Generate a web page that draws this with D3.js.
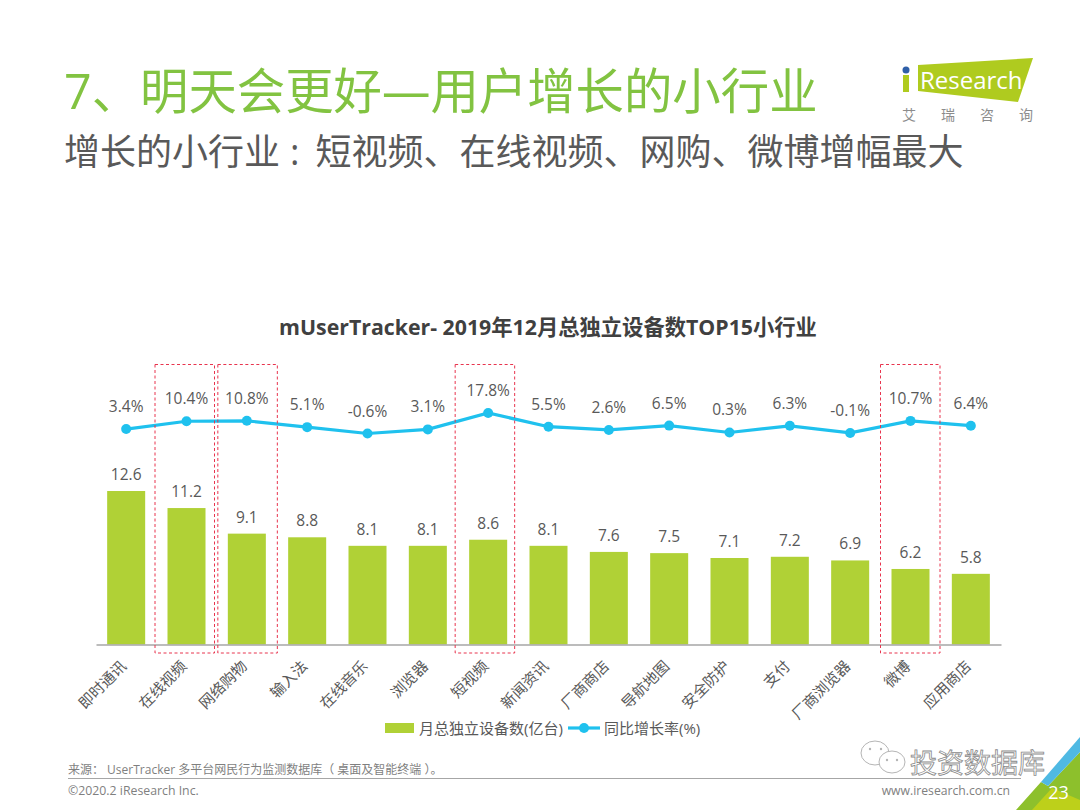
<!DOCTYPE html>
<html>
<head>
<meta charset="utf-8">
<script src="https://cdn.jsdelivr.net/npm/d3@7"></script>
<style>
  html, body { margin: 0; padding: 0; background: #fff; }
  svg { display: block; }
  text { font-family: "Open Sans", "Noto Sans CJK SC", sans-serif; }
</style>
</head>
<body>
<svg id="chart" width="1080" height="810"></svg>
<script>
const categories = ['即时通讯', '在线视频', '网络购物', '输入法', '在线音乐', '浏览器', '短视频', '新闻资讯', '厂商商店', '导航地图', '安全防护', '支付', '厂商浏览器', '微博', '应用商店'];
const devices = [12.6, 11.2, 9.1, 8.8, 8.1, 8.1, 8.6, 8.1, 7.6, 7.5, 7.1, 7.2, 6.9, 6.2, 5.8];
const growth = [3.4, 10.4, 10.8, 5.1, -0.6, 3.1, 17.8, 5.5, 2.6, 6.5, 0.3, 6.3, -0.1, 10.7, 6.4];
const highlighted = ['在线视频', '网络购物', '短视频', '微博'];

const GREEN = '#b0d136', BLUE = '#1fc1ee', GREY = '#595959';

const svg = d3.select('#chart');

/* Header */
svg.append('text').attr('x', 64).attr('y', 109)
  .style('font-size', '48.4px').style('fill', '#82c341')
  .text('7、明天会更好—用户增长的小行业');
const sub = svg.append('text').attr('x', 64).attr('y', 165)
  .style('font-size', '36px').style('fill', '#595959');
sub.append('tspan').text('增长的小行业');
sub.append('tspan').attr('dx', 10).text(':');
sub.append('tspan').attr('dx', 16).text('短视频、在线视频、网购、微博增幅最大');

/* Logo */
const logo = svg.append('g');
logo.append('path').attr('d', 'M918,65L1033,58L1018,102L918,91Z').attr('fill', '#afcb1f');
logo.append('circle').attr('cx', 906).attr('cy', 70).attr('r', 3.5).attr('fill', '#2f5fa8');
logo.append('rect').attr('x', 903).attr('y', 75).attr('width', 6).attr('height', 17).attr('fill', '#afcb1f');
logo.append('text').attr('x', 920).attr('y', 89)
  .style('font-size', '24px').style('fill', '#fff').text('Research');
['艾', '瑞', '咨', '询'].forEach((t, i) => {
  logo.append('text').attr('x', 909 + i * 39).attr('y', 120).attr('text-anchor', 'middle')
    .style('font-size', '14px').style('fill', '#8c8c8c').text(t);
});

/* Chart */
svg.append('text').attr('x', 548).attr('y', 335).attr('text-anchor', 'middle')
  .style('font-size', '21.3px').style('font-weight', 700).style('fill', '#404040')
  .text('mUserTracker- 2019年12月总独立设备数TOP15小行业');

const x = d3.scaleBand().domain(categories).range([96, 1001]).paddingInner(0.37).paddingOuter(0.185);
const yBar = d3.scaleLinear().domain([0, 12.6]).range([644.5, 491]);
const yLine = d3.scaleLinear().domain([-0.6, 17.8]).range([433.5, 413]);
const cx = d => x(d) + x.bandwidth() / 2;

/* Bars */
svg.append('g').selectAll('rect').data(categories).join('rect')
  .attr('x', d => x(d))
  .attr('width', x.bandwidth())
  .attr('y', (d, i) => yBar(devices[i]))
  .attr('height', (d, i) => yBar(0) - yBar(devices[i]))
  .attr('fill', GREEN);

svg.append('g').selectAll('text').data(categories).join('text')
  .attr('x', cx)
  .attr('y', (d, i) => yBar(devices[i]) - 11)
  .attr('text-anchor', 'middle')
  .style('font-size', '15.5px').style('fill', GREY)
  .text((d, i) => devices[i].toFixed(1));

/* Baseline + category labels */
const axis = svg.append('g').attr('transform', `translate(0,${yBar(0)})`)
  .call(d3.axisBottom(x).tickSize(0).tickPadding(0));
axis.select('.domain').attr('stroke', '#a6a6a6').attr('stroke-width', 1.5);
axis.selectAll('text')
  .attr('text-anchor', 'end')
  .attr('transform', 'translate(-2.5,19) rotate(-45)')
  .attr('dy', '0.35em')
  .style('font-size', '15px').style('fill', GREY)
  .style('font-family', '"Noto Sans CJK SC", sans-serif');

/* Line */
const line = d3.line().x(d => cx(d)).y((d, i) => yLine(growth[i]));
svg.append('path').datum(categories).attr('d', line)
  .attr('fill', 'none').attr('stroke', BLUE).attr('stroke-width', 3.2);
svg.append('g').selectAll('circle').data(categories).join('circle')
  .attr('cx', cx)
  .attr('cy', (d, i) => yLine(growth[i]))
  .attr('r', 5).attr('fill', BLUE);
svg.append('g').selectAll('text').data(categories).join('text')
  .attr('x', cx)
  .attr('y', (d, i) => yLine(growth[i]) - 17)
  .attr('text-anchor', 'middle')
  .style('font-size', '15.5px').style('fill', GREY)
  .text((d, i) => growth[i].toFixed(1) + '%');

/* Highlight boxes, hand placed in the original so each sits a bit differently */
const boxNudge = [-31.5, -29, -33, -30];
svg.append('g').selectAll('rect').data(highlighted).join('rect')
  .attr('x', (d, i) => cx(d) + boxNudge[i])
  .attr('y', 364.5)
  .attr('width', 59.5)
  .attr('height', 288.5)
  .attr('fill', 'none')
  .attr('stroke', '#e8344e').attr('stroke-width', 1).attr('stroke-dasharray', '3,2.5');

/* Legend */
const legend = svg.append('g').style('font-size', '15px').style('fill', GREY);
legend.append('rect').attr('x', 385).attr('y', 723).attr('width', 29).attr('height', 10).attr('fill', GREEN);
legend.append('text').attr('x', 419).attr('y', 734).text('月总独立设备数(亿台)');
legend.append('line').attr('x1', 568).attr('x2', 600).attr('y1', 728).attr('y2', 728)
  .attr('stroke', BLUE).attr('stroke-width', 3.2);
legend.append('circle').attr('cx', 584).attr('cy', 728).attr('r', 5).attr('fill', BLUE);
legend.append('text').attr('x', 604).attr('y', 734).text('同比增长率(%)');

/* Footer */
svg.append('text').attr('x', 68).attr('y', 774)
  .style('font-size', '12px').style('fill', '#7f7f7f')
  .text('来源： UserTracker 多平台网民行为监测数据库（ 桌面及智能终端 ）。');
svg.append('line').attr('x1', 68).attr('x2', 1021).attr('y1', 778.5).attr('y2', 778.5)
  .attr('stroke', '#a6a6a6').attr('stroke-width', 1);
svg.append('text').attr('x', 68).attr('y', 795)
  .style('font-size', '12.3px').style('fill', '#7f7f7f').text('©2020.2 iResearch Inc.');
svg.append('text').attr('x', 1010).attr('y', 795).attr('text-anchor', 'end')
  .style('font-size', '12.2px').style('fill', '#7f7f7f').text('www.iresearch.com.cn');

/* Corner */
svg.append('path').attr('d', 'M1041,782L1016,810L1080,810L1080,752L1048,786Z').attr('fill', '#8dc02c');
svg.append('path').attr('d', 'M1032,810L1052,788L1080,800L1080,810Z').attr('fill', '#bdd01a');
svg.append('path').attr('d', 'M1080,737L1041,782L1048,786L1080,752Z').attr('fill', '#4fb9e3');
svg.append('text').attr('x', 1058.5).attr('y', 799).attr('text-anchor', 'middle')
  .style('font-size', '18px').style('fill', '#fff').text('23');

/* Watermark */
const mark = svg.append('g').attr('fill', '#fff').attr('stroke', '#b5b5b5').attr('stroke-width', 1);
mark.append('ellipse').attr('cx', 875).attr('cy', 753).attr('rx', 14).attr('ry', 12);
mark.append('ellipse').attr('cx', 892).attr('cy', 762).attr('rx', 13).attr('ry', 11);
[[870, 749], [881, 749], [887, 760], [897, 760]].forEach(([ex, ey]) => {
  mark.append('circle').attr('cx', ex).attr('cy', ey).attr('r', 1.2).attr('fill', '#b5b5b5').attr('stroke', 'none');
});
mark.append('text').attr('x', 910).attr('y', 773)
  .style('font-size', '27px').style('stroke-width', 0.8).style('stroke', '#8a8a8a').text('投资数据库');
</script>
</body>
</html>
